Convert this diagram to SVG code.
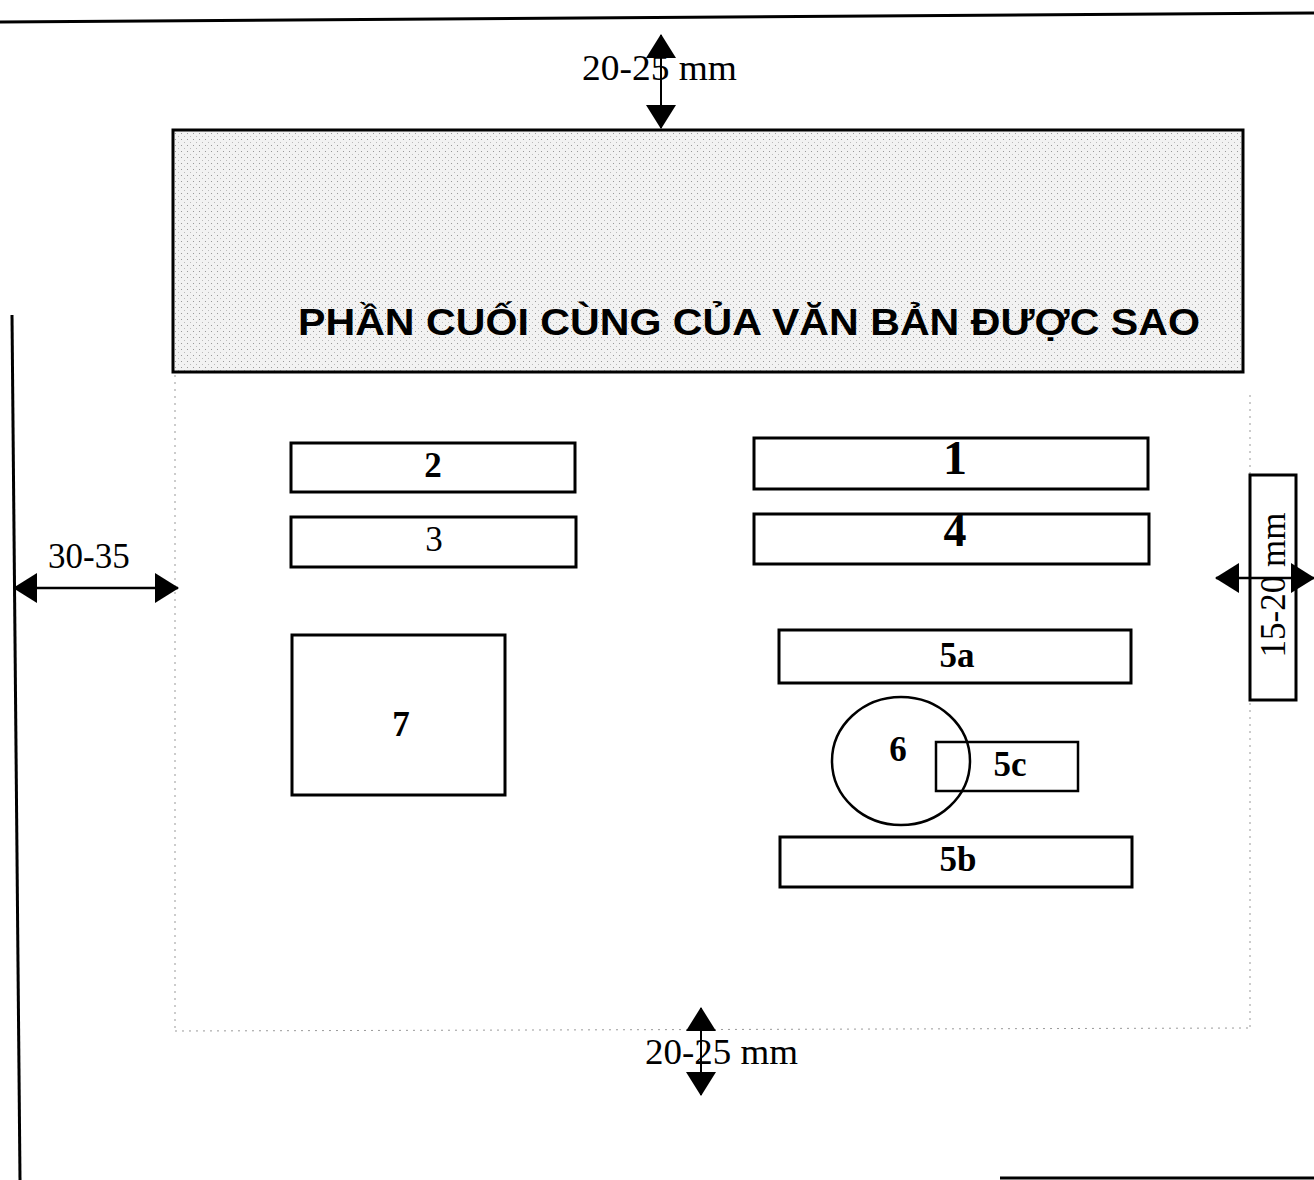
<svg xmlns="http://www.w3.org/2000/svg" width="1314" height="1180" viewBox="0 0 1314 1180">
<style>
.box{fill:#fff;stroke:#000;stroke-width:3}
.lbl{font-family:"Liberation Serif",serif;font-weight:bold;font-size:35px;text-anchor:middle;fill:#000}
.dim{font-family:"Liberation Serif",serif;font-size:35px;fill:#000}
.line{stroke:#000;stroke-width:3;fill:none}
.dot{stroke:#999;stroke-width:1;stroke-dasharray:2 5;fill:none}
.arr{stroke:#000;stroke-width:2.5;fill:none}
</style>
<defs>
<marker id="ah" viewBox="0 0 24 30" refX="23" refY="15" markerWidth="24" markerHeight="30" markerUnits="userSpaceOnUse" orient="auto-start-reverse">
<path d="M0,0 L24,15 L0,30 z" fill="#000"/>
</marker>
<pattern id="tex" width="6" height="6" patternUnits="userSpaceOnUse">
<rect width="6" height="6" fill="#f2f2f2"/>
<rect x="1" y="1" width="1" height="1" fill="#999"/>
<rect x="4" y="4" width="1" height="1" fill="#bbb"/>
</pattern>
</defs>
<rect width="1314" height="1180" fill="#fff"/>
<g id="page-lines">
<line class="line" x1="0" y1="22" x2="1314" y2="13"/>
<line class="line" x1="12" y1="315" x2="20" y2="1180"/>
<line class="line" x1="1000" y1="1178" x2="1314" y2="1178"/>
<line class="dot" x1="175" y1="375" x2="175" y2="1030"/>
<line class="dot" x1="1250" y1="395" x2="1250" y2="1030"/>
<line class="dot" x1="175" y1="1031" x2="1250" y2="1028"/>
</g>
<g id="header">
<rect x="173" y="130" width="1070" height="242" fill="url(#tex)" stroke="#000" stroke-width="3"/>
<text x="298" y="335" textLength="902" lengthAdjust="spacingAndGlyphs" style="font-family:'Liberation Sans',Arial,sans-serif;font-weight:bold;font-size:36px">PHẦN CUỐI CÙNG CỦA VĂN BẢN ĐƯỢC SAO</text>
</g>
<g id="n2"><rect class="box" x="291" y="443" width="284" height="49"/><text class="lbl" x="433" y="477">2</text></g>
<g id="n3"><rect class="box" x="291" y="517" width="285" height="50"/><text class="lbl" x="434" y="551" style="font-weight:normal">3</text></g>
<g id="n1"><rect class="box" x="754" y="438" width="394" height="51"/><text class="lbl" x="955" y="474" style="font-size:48px">1</text></g>
<g id="n4"><rect class="box" x="754" y="514" width="395" height="50"/><text class="lbl" x="955" y="546" style="font-size:46px">4</text></g>
<g id="n5a"><rect class="box" x="779" y="630" width="352" height="53"/><text class="lbl" x="957" y="667">5a</text></g>
<g id="n7"><rect class="box" x="292" y="635" width="213" height="160"/><text class="lbl" x="401" y="736">7</text></g>
<g id="n5c"><rect class="box" x="936" y="742" width="142" height="49" style="stroke-width:2.5"/><text class="lbl" x="1010" y="776">5c</text></g>
<g id="n6"><ellipse cx="901" cy="761" rx="69" ry="64" fill="none" stroke="#000" stroke-width="2.5"/><text class="lbl" x="898" y="761">6</text></g>
<g id="n5b"><rect class="box" x="780" y="837" width="352" height="50"/><text class="lbl" x="958" y="871">5b</text></g>
<g id="n-right"><rect class="box" x="1250" y="475" width="46" height="225"/><text class="dim" x="0" y="0" transform="translate(1285,585) rotate(-90)" text-anchor="middle">15-20 mm</text></g>
<g id="connectors">
<line class="arr" x1="661" y1="35" x2="661" y2="128" marker-start="url(#ah)" marker-end="url(#ah)" style="stroke-width:2"/>
<line class="arr" x1="14" y1="588" x2="178" y2="588" marker-start="url(#ah)" marker-end="url(#ah)"/>
<line class="arr" x1="1216" y1="578" x2="1314" y2="578" marker-start="url(#ah)" marker-end="url(#ah)"/>
<line class="arr" x1="701" y1="1008" x2="701" y2="1095" marker-start="url(#ah)" marker-end="url(#ah)" style="stroke-width:2"/>
</g>
<g id="dim-labels">
<text class="dim" x="582" y="80" textLength="155" lengthAdjust="spacingAndGlyphs">20-25 mm</text>
<text class="dim" x="48" y="568">30-35</text>
<text class="dim" x="645" y="1064" textLength="153" lengthAdjust="spacingAndGlyphs">20-25 mm</text>
</g>
</svg>
